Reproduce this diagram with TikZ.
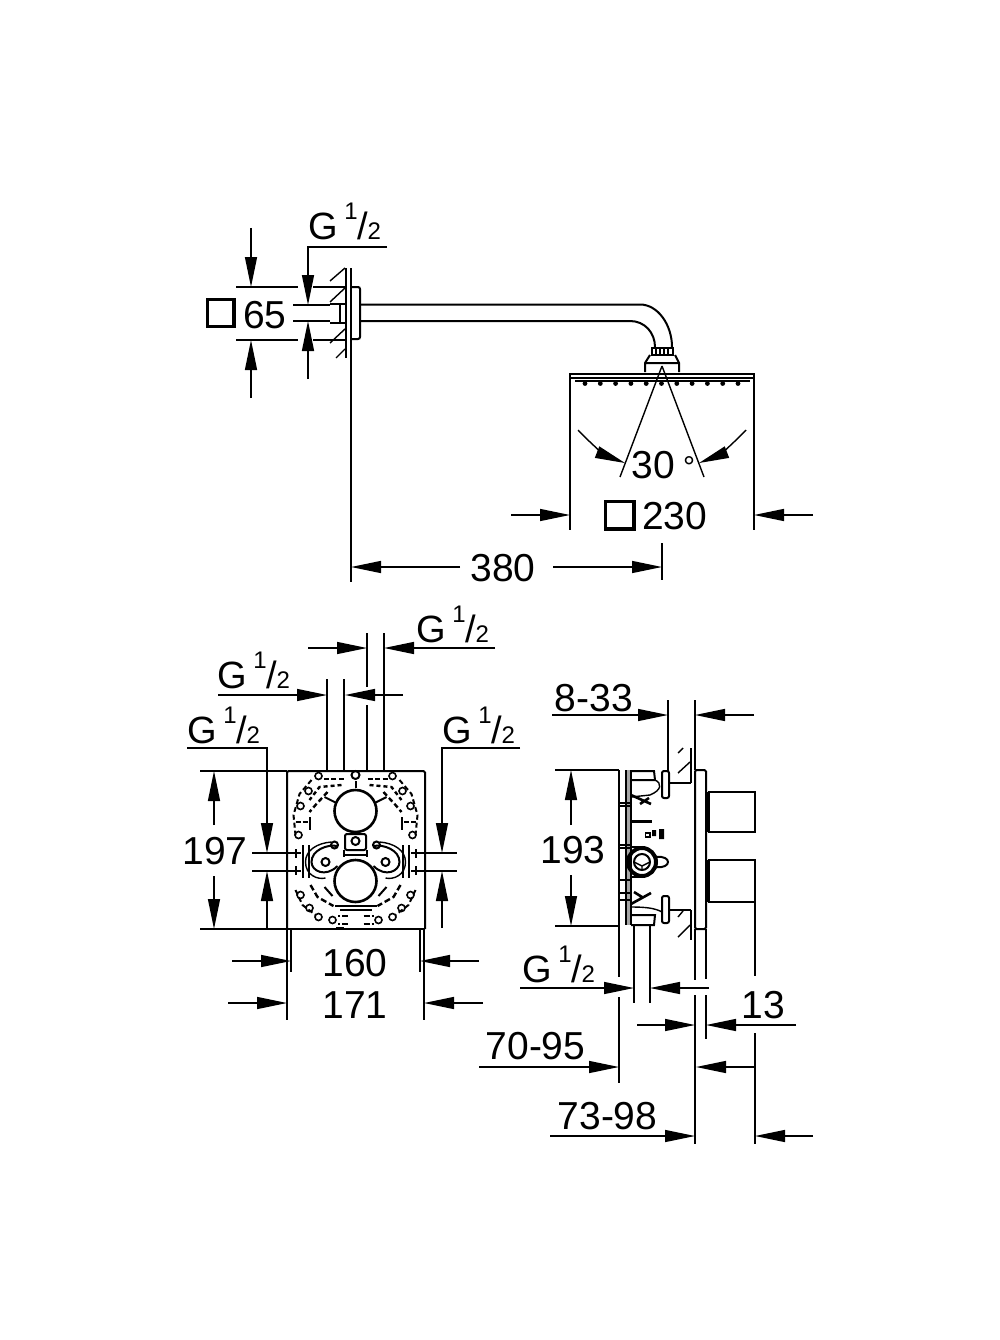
\documentclass[tikz,border=0pt]{standalone}
\usepackage{fontspec}
\setmainfont{Liberation Sans}
\usetikzlibrary{arrows.meta,calc}
\newcommand{\gthread}{G\hspace{6.5pt}\raisebox{20pt}{\fontsize{24}{24}\selectfont 1}/\hspace{-0.5pt}{\fontsize{24}{24}\selectfont 2}}
\tikzset{
	dimtext/.style={font=\fontsize{39}{39}\selectfont,inner sep=0pt},
	gtext/.style={font=\fontsize{38}{38}\selectfont,inner sep=0pt,anchor=base west},
	dimline/.style={line width=1.4pt},
	dimarrow/.style={line width=1.4pt,-{Triangle[length=30pt,width=12pt]}},
	part/.style={line width=2pt},
	heavy/.style={line width=3.6pt},
	squaremark/.style={line width=3.6pt}
}
\begin{document}
\begin{tikzpicture}[x=1pt,y=-1pt]
	\useasboundingbox (0,0) rectangle (1000,1340);
	% wall arm
	\draw[dimline] (346,268) -- (346,358);
	\draw[dimline] (351,268) -- (351,582);
	\foreach \a/\b/\c/\d in {330/281/345/268, 330/302/345/288, 330/343/345/329, 336/358/345/349}
	  \draw[dimline] (\a,\b) -- (\c,\d);
	\draw[part,rounded corners=2pt] (351,287) -- (360,287) -- (360,339) -- (351,339);
	\draw[part] (330,304) -- (346,304) (330,323) -- (346,323);
	\draw[line width=2.6pt] (340,305) -- (340,322);
	\draw[part] (360,304.5) -- (640,304.5) .. controls (658,304.5) and (672,325) .. (672,347);
	\draw[part] (360,321) -- (630,321) .. controls (645,321) and (655,333) .. (655,347);
	% shower head
	\draw[line width=2.6pt] (652,348) rectangle (673,355);
	\foreach \x in {656,660,664,668}
	  \draw[line width=1.2pt] (\x,349) -- (\x,354);
	\draw[part] (650,355) -- (645,363) -- (645,372) (675,355) -- (679,363) -- (679,372) (646,363) -- (678,363);
	\draw[line width=2.8pt] (569,374) -- (755,374);
	\draw[dimline] (570,378) -- (754,378);
	\draw[part] (575,381) -- (750,381);
	\foreach \x in {0,...,10}
	  \fill ({585+15.3*\x},383.5) circle [radius=2.4];
	\draw[dimline] (570,375) -- (570,530);
	\draw[dimline] (754,375) -- (754,530);
	\draw[dimline] (662,366) -- (620,477);
	\draw[dimline] (662,366) -- (704,477);
	\draw[dimarrow] (578,430) .. controls (593,446) and (607,456) .. (625,463);
	\draw[dimarrow] (746,430) .. controls (731,446) and (717,456) .. (699,463);
	\node[dimtext] (angle) at (653.5,465) {30};
	\node[dimtext,font=\fontsize{30}{30}\selectfont] (degree) at (689,467) {°};
	% head width
	\draw[squaremark] (605.5,501.5) rectangle (634,529);
	\node[dimtext,anchor=west] (headsize) at (642,516) {230};
	\draw[dimarrow] (511,515) -- (570,515);
	\draw[dimarrow] (813,515) -- (754,515);
	% arm length
	\draw[dimline] (662,543) -- (662,580);
	\draw[dimarrow] (460,567) -- (351,567);
	\draw[dimarrow] (553,567) -- (662,567);
	\node[dimtext] (armlength) at (503,568) {380};
	% flange sizes
	\draw[squaremark] (207.5,299.5) rectangle (234,326.5);
	\node[dimtext,anchor=west] (flangesize) at (243,315) {65};
	\draw[dimline] (236,287) -- (298,287) (313,287) -- (345,287);
	\draw[dimline] (236,340) -- (298,340) (313,340) -- (345,340);
	\draw[dimline] (293,305) -- (330,305) (293,321) -- (330,321);
	\draw[dimarrow] (251,228) -- (251,287);
	\draw[dimarrow] (251,398) -- (251,340);
	\draw[dimarrow] (387,247) -- (308,247) -- (308,305);
	\draw[dimarrow] (308,379) -- (308,321);
	\node[gtext] (gtop) at (308,240) {\gthread};
	% mounting box, front view
	\draw[part,rounded corners=1.5pt] (287,929) -- (287,771) -- (425,771) -- (425,929);
	\draw[part] (270,928.5) -- (425,928.5);
	\draw[line width=2.6pt] (355.5,811) circle [radius=21];
	\draw[line width=2.6pt] (355.5,881) circle [radius=21];
	\draw[part,rounded corners=2pt] (345,834) rectangle (366,850);
	\draw[part] (355.5,841) circle [radius=4];
	\draw[part] (344,850) -- (344,857) (367,850) -- (367,857) (344,855) -- (367,855);
	\foreach \m in {1,-1}{
	  \begin{scope}[shift={(355.5,0)},xscale=\m]
	    \draw[part] (-30,862) circle [radius=4];
	    \draw[part] (-18,846) .. controls (-28,844) and (-44,850) .. (-44,862) .. controls (-44,871) and (-30,878) .. (-18,866);
	    \draw[dimline] (-50,862) .. controls (-50,850) and (-38,843) .. (-24,842);
	    \draw[dimline] (-50,862) .. controls (-50,875) and (-38,880) .. (-30,878);
	    \draw[part] (-21,845) circle [radius=3.5];
	    \draw[part] (-53,845) -- (-53,878) (-47,845) -- (-47,878);
	    \draw[part] (-65,853) -- (-55,853) (-65,871) -- (-55,871) (-60,849) -- (-60,858) (-60,866) -- (-60,875);
	    \draw[part] (-46,817) -- (-46,830);
	    \draw[line width=2.4pt,dash pattern=on 5pt off 2pt] (-60,822) -- (-46,822);
	    \draw[part] (-31,797) -- (-19,803);
	    \draw[part] (-31,887) -- (-23,896);
	    \foreach \cx/\cy in {-37/776, -47/791, -55/806, -57/835, -55/895, -46/908, -37/917, -23/920}
	      \draw[line width=1.6pt] (\cx,\cy) circle [radius=3.5];
	    \draw[line width=2.4pt,dash pattern=on 5pt off 2.5pt] (-12,779) -- (-32,779);
	    \draw[line width=2.4pt,dash pattern=on 4pt off 3pt] (-14,785) -- (-36,787) -- (-46,800);
	    \draw[line width=2.4pt,dash pattern=on 5pt off 3pt] (-28,792) -- (-40,805) -- (-46,812);
	    \draw[line width=2.4pt,dash pattern=on 6pt off 3pt] (-45,885) -- (-38,897) -- (-22,906);
	    \draw[line width=2pt,dash pattern=on 5pt off 3pt] (-60,890) -- (-53,905) -- (-40,915);
	    \draw[line width=2pt,dash pattern=on 5pt off 3pt] (-44,780) -- (-56,794) -- (-62,815) -- (-60,835);
	    \draw[line width=2pt,dash pattern=on 6pt off 2pt] (-8,916) -- (-18,916) (-8,924) -- (-18,924);
	  \end{scope}
	}
	\draw[part] (355.5,775) circle [radius=4];
	\draw[part] (335,906) -- (377,906) (340,910) -- (372,910);
	\draw[part] (355.5,781) -- (355.5,788);
	\draw[line width=2.6pt] (336,928.5) -- (344,928.5);
	% connections, front view
	\foreach \x in {327,344} \draw[dimline] (\x,679) -- (\x,771);
	\draw[dimline] (367,633) -- (367,687) (367,705) -- (367,771);
	\draw[dimline] (384,633) -- (384,771);
	\draw[dimarrow] (308,648) -- (367,648);
	\draw[dimarrow] (495,648) -- (384,648);
	\node[gtext] (gupper) at (416,642) {\gthread};
	\draw[dimarrow] (218,695) -- (327,695);
	\draw[dimarrow] (403,695) -- (345,695);
	\node[gtext] (gmiddle) at (217,688) {\gthread};
	\draw[dimarrow] (187,748) -- (267,748) -- (267,853);
	\draw[dimarrow] (267,928) -- (267,871);
	\draw[dimline] (252,853) -- (292,853) (252,871) -- (292,871);
	\node[gtext] (gleft) at (187,743) {\gthread};
	\draw[dimarrow] (520,748) -- (442,748) -- (442,853);
	\draw[dimarrow] (442,928) -- (442,871);
	\draw[dimline] (418,853) -- (457,853) (418,871) -- (457,871);
	\node[gtext] (gright) at (442,743) {\gthread};
	% height of box
	\draw[dimline] (200,771) -- (287,771) (200,929) -- (287,929);
	\draw[dimarrow] (214,825) -- (214,771);
	\draw[dimarrow] (214,876) -- (214,929);
	\node[dimtext] (boxheight) at (215,851) {197};
	% width of box
	\foreach \x in {291,420} \draw[dimline] (\x,929) -- (\x,972);
	\foreach \x in {287,424} \draw[dimline] (\x,929) -- (\x,1020);
	\draw[dimarrow] (232,961) -- (291,961);
	\draw[dimarrow] (479,961) -- (420,961);
	\node[dimtext] (innerwidth) at (355,963) {160};
	\draw[dimarrow] (228,1003) -- (287,1003);
	\draw[dimarrow] (483,1003) -- (424,1003);
	\node[dimtext] (outerwidth) at (355,1005) {171};
	% mounting box, side view
	\fill[gray!70] (626,770) rectangle (630,925);
	\draw[part] (619,770) -- (619,925) (626,770) -- (626,925) (631,770) -- (631,925);
	\draw[part] (631,771) -- (654,771) -- (655,780) -- (631,780);
	\draw[part] (631,915) -- (655,915) -- (654,925) -- (631,925);
	\draw[dimline] (619,803) -- (631,803) (619,806) -- (631,806) (619,845) -- (631,845) (619,848) -- (631,848);
	\draw[dimline] (619,880) -- (631,880) (619,893) -- (631,893) (619,900) -- (631,900);
	\draw[part,rounded corners=2pt] (662,771) rectangle (669,798);
	\draw[part,rounded corners=2pt] (662,896) rectangle (669,923);
	\draw[dimline] (655,780) .. controls (662,783) and (662,790) .. (650,795) -- (631,797);
	\draw[dimline] (631,907) .. controls (645,907) and (655,908) .. (662,912);
	\draw[line width=2.6pt] (631,795) -- (651,804) (640,804) -- (649,798);
	\draw[line width=2.6pt] (631,904) -- (651,893) (634,892) -- (642,897);
	\draw[line width=3pt] (631,821) -- (652,821);
	\draw[dimline] (645.5,833) rectangle (650,837);
	\fill (652,830) rectangle (656,836) (659,829) rectangle (664,839);
	\draw[dimline] (631,847) -- (645,847) (631,877) -- (645,877);
	\draw[line width=4pt] (642,862) circle [radius=14];
	\draw[part] (642,862) circle [radius=8];
	\draw[dimline] (634,862) -- (642,866) -- (650,862) (642,866) -- (642,870);
	\draw[part] (656,857) .. controls (672,855) and (672,869) .. (656,867);
	\draw[part] (669,783) -- (691,783) (669,910) -- (691,910);
	\draw[part] (691,748) -- (691,783) (695,748) -- (695,770);
	\draw[part] (691,910) -- (691,940) (695,929) -- (695,940);
	\draw[part,rounded corners=1.5pt] (695,770) rectangle (706,929);
	\foreach \a/\b/\c/\d in {678/753/683/748, 678/773/690/762, 678/917/683/911, 678/937/690/925}
	  \draw[dimline] (\a,\b) -- (\c,\d);
	\draw[line width=4pt] (708,792) -- (708,832) (708,860) -- (708,902);
	\draw[part] (708,792) -- (755,792) -- (755,832) -- (708,832);
	\draw[part] (708,860) -- (755,860) -- (755,902) -- (708,902);
	% side view dimensions
	\draw[dimline] (668,700) -- (668,771) (695,700) -- (695,770);
	\draw[dimarrow] (552,715) -- (668,715);
	\draw[dimarrow] (754,715) -- (695,715);
	\node[dimtext] (wallrange) at (594,698) {8-33};
	\draw[dimline] (555,770) -- (619,770) (555,926) -- (619,926);
	\draw[dimarrow] (571,825) -- (571,770);
	\draw[dimarrow] (571,875) -- (571,926);
	\node[dimtext] (sideheight) at (573,850) {193};
	\draw[dimline] (619,925) -- (619,977) (619,997) -- (619,1083);
	\draw[dimline] (634,925) -- (634,1003) (650,925) -- (650,1003);
	\draw[dimline] (695,929) -- (695,980) (695,995) -- (695,1144);
	\draw[dimline] (706,929) -- (706,979) (706,995) -- (706,1039);
	\draw[dimline] (755,902) -- (755,976) (755,1033) -- (755,1144);
	\draw[dimarrow] (520,988) -- (634,988);
	\draw[dimarrow] (709,988) -- (650,988);
	\node[gtext] (gside) at (522,982) {\gthread};
	\draw[dimarrow] (637,1025) -- (695,1025);
	\draw[dimarrow] (796,1025) -- (706,1025);
	\node[dimtext] (platedepth) at (763,1005) {13};
	\draw[dimarrow] (479,1067) -- (619,1067);
	\draw[dimarrow] (755,1067) -- (696,1067);
	\node[dimtext] (boxrange) at (535.5,1046) {70-95};
	\draw[dimarrow] (550,1136) -- (695,1136);
	\draw[dimarrow] (813,1136) -- (755,1136);
	\node[dimtext] (totalrange) at (607.5,1116) {73-98};
\end{tikzpicture}
\end{document}
